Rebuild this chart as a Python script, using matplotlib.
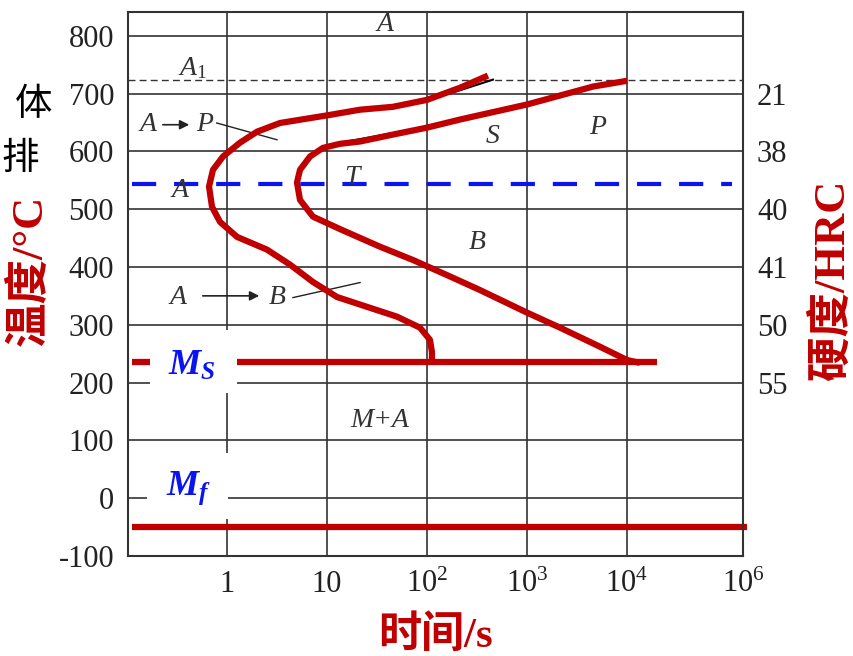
import numpy as np
import matplotlib.pyplot as plt
from matplotlib.patches import Rectangle

plt.rcParams['mathtext.fontset'] = 'custom'
plt.rcParams['mathtext.rm'] = 'Liberation Serif'
plt.rcParams['mathtext.it'] = 'Liberation Serif:italic'
plt.rcParams['mathtext.bf'] = 'Liberation Serif:bold:italic'
plt.rcParams['axes.unicode_minus'] = False

# start of transformation curve (time s, temperature C)
start_t = [407, 214, 100, 45.7, 21.4, 10.7, 3.39, 2.0, 1.35, 0.912, 0.724, 0.661,
           0.708, 0.851, 1.26, 2.51, 4.27, 7.24, 12.6, 25.1, 50.1, 85.1, 107, 112, 112]
start_T = [731, 710, 689, 677, 672, 663, 649, 634, 615, 591, 568, 539,
           504, 478, 452, 430, 404, 374, 348, 331, 314, 295, 274, 253, 236]

# end of transformation curve
end_t = [10000, 4571, 1000, 214, 100, 45.7, 21.4, 13.5, 9.12, 6.76, 5.37, 5.01,
         5.37, 7.24, 14.1, 33.9, 72.4, 158, 339, 1000, 2138, 5370, 10000, 13490]
end_T = [722, 712, 681, 655, 641, 629, 617, 613, 606, 591, 568, 546,
         516, 487, 464, 435, 412, 386, 360, 321, 295, 262, 239, 234]

A1 = 723
Ms = 235
Mf = -49
nose = 543

y_ticks = [-100, 0, 100, 200, 300, 400, 500, 600, 700, 800]
x_ticks = [1, 10, 100, 1000, 10000, 10 ** 5.16]
x_labels = ['1', '10', '$10^2$', '$10^3$', '$10^4$', '$10^6$']
hrc_T = [700, 600, 500, 400, 300, 200]
hrc_labels = ['21', '38', '40', '41', '50', '55']

red = '#c00000'
blue = '#0a14f0'
serif = ['Liberation Serif', 'DejaVu Serif']
cjk = ['Liberation Serif', 'Noto Sans CJK SC']

fig = plt.figure(figsize=(8.54, 6.56), dpi=100)
ax = fig.add_axes([128 / 854, 1 - 556 / 656, 615 / 854, 544 / 656])
ax.set_xscale('log')
ax.set_xlim(10 ** -0.99, 10 ** 5.16)
ax.set_ylim(-100, 841)
ax.set_xticks(x_ticks)
ax.set_xticklabels(x_labels)
ax.minorticks_off()
ax.set_yticks(y_ticks)
ax.tick_params(length=0, labelsize=22, labelcolor='#222', pad=10)
for lab in ax.get_xticklabels() + ax.get_yticklabels():
    lab.set_fontfamily(serif)
ax.grid(True, color='#333', lw=1.2, zorder=0)
for s in ax.spines.values():
    s.set_color('#333')
    s.set_linewidth(1.5)

ax2 = ax.twinx()
ax2.set_ylim(ax.get_ylim())
ax2.set_yticks(hrc_T)
ax2.set_yticklabels(hrc_labels)
ax2.tick_params(length=0, labelsize=22, labelcolor='#222', pad=10)
for lab in ax2.get_yticklabels():
    lab.set_fontfamily(serif)
for s in ax2.spines.values():
    s.set_visible(False)

# A1 line
ax.axhline(A1, color='#333', lw=1.0, ls=(0, (5, 3)), zorder=1)

# original black curves peeking out
ax.plot([17.0, 85.1], [618, 640], color='black', lw=1.5, zorder=1.5)
ax.plot([191, 457], [703, 724], color='black', lw=1.5, zorder=1.5)
ax.plot([0.79, 3.16], [649, 620], color='#222', lw=1.0)
ax.plot([4.57, 21.4], [347, 373], color='#222', lw=1.0)

# red curves
ax.plot(start_t, start_T, color=red, lw=4.5, solid_capstyle='butt', solid_joinstyle='round', zorder=2)
ax.plot(end_t, end_T, color=red, lw=4.5, solid_capstyle='butt', solid_joinstyle='round', zorder=2)
ax.plot([0.112, 19953], [Ms, Ms], color=red, lw=4.5, zorder=2, solid_capstyle='butt')
ax.plot([0.112, 10 ** 5.2], [Mf, Mf], color=red, lw=4.5, zorder=2, clip_on=False, solid_capstyle='butt')
ax.plot([0.112, 10 ** 5.05], [nose, nose], color=blue, lw=3, ls=(0, (5.8, 4.3)), zorder=2)

# white boxes for Ms / Mf
ax.add_patch(Rectangle((0.17, 182), 1.26 - 0.17, 291 - 182, facecolor='white', edgecolor='none', zorder=3))
ax.add_patch(Rectangle((0.158, -36), 1.02 - 0.158, 78 + 36, facecolor='white', edgecolor='none', zorder=3))
ax.text(0.257, 231, r'$\mathbf{M_S}$', color=blue, fontsize=26, va='center', ha='left', zorder=4)
ax.text(0.245, 18, r'$\mathbf{M_f}$', color=blue, fontsize=26, va='center', ha='left', zorder=4)

# phase labels
lab_kw = dict(fontsize=20, style='italic', family=serif, color='#333', ha='center', va='center')
ax.text(38, 819, 'A', **lab_kw)
ax.text(0.457, 746, '$A_1$', fontsize=20, color='#333', ha='center', va='center')
ax.text(0.162, 646, 'A', **lab_kw)
ax.text(0.60, 646, 'P', **lab_kw)
ax.annotate('', xy=(0.447, 646), xytext=(0.214, 646),
            arrowprops=dict(arrowstyle='-|>', color='#222', lw=1.2, mutation_scale=14))
ax.text(457, 625, 'S', **lab_kw)
ax.text(5129, 642, 'P', **lab_kw)
ax.text(17.8, 554, 'T', **lab_kw)
ax.text(0.339, 533, 'A', **lab_kw)
ax.text(316, 442, 'B', **lab_kw)
ax.text(0.324, 348, 'A', **lab_kw)
ax.text(3.16, 348, 'B', **lab_kw)
ax.annotate('', xy=(2.24, 350), xytext=(0.537, 350),
            arrowprops=dict(arrowstyle='-|>', color='#222', lw=1.2, mutation_scale=14))
ax.text(33.9, 135, 'M+A', **lab_kw)

# axis titles
fig.text(435 / 854, 1 - 636 / 656, '时间/s', color=red, fontsize=31, weight='bold',
         family=cjk, ha='center', va='center')
fig.text(30 / 854, 1 - 270 / 656, '温度/°C', color=red, fontsize=32, weight='bold',
         family=cjk, ha='center', va='center', rotation=90)
fig.text(832 / 854, 1 - 280 / 656, '硬度/HRC', color=red, fontsize=32, weight='bold',
         family=cjk, ha='center', va='center', rotation=90)

# text fragments at the left border
fig.text(34 / 854, 1 - 105 / 656, '体', color='black', fontsize=27,
         family=['Noto Sans CJK SC'], ha='center', va='center')
fig.text(20 / 854, 1 - 158 / 656, '排', color='black', fontsize=27,
         family=['Noto Sans CJK SC'], ha='center', va='center')

fig.savefig('out.png', dpi=100)
